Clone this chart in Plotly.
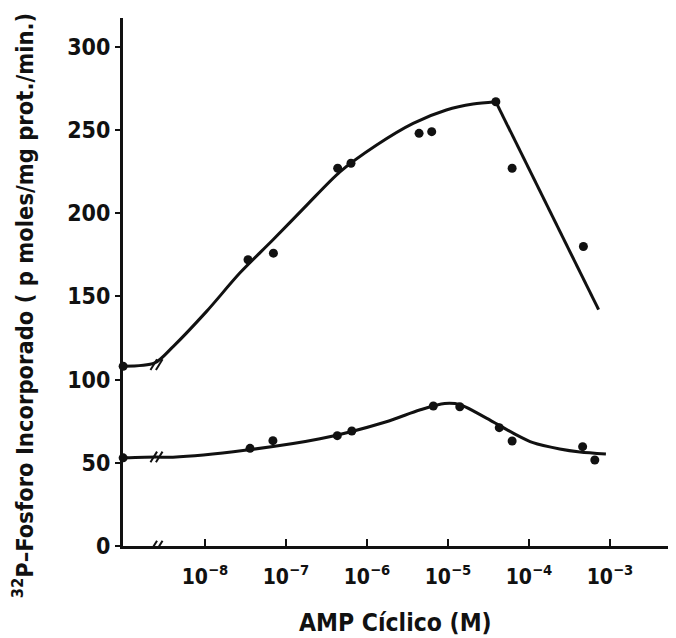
import plotly.graph_objects as go

# Position used for the control (no cyclic AMP) value, drawn at the axis origin
CONTROL_X = 10 ** -9.01

# Upper series: measured points
upper_x = [CONTROL_X, 3.4e-8, 7.0e-8, 4.35e-7, 6.35e-7, 4.4e-6, 6.3e-6, 3.9e-5, 6.2e-5, 4.7e-4]
upper_y = [108, 172, 176, 227, 230, 248, 249, 267, 227, 180]

# Upper series: hand-drawn fitted curve
upper_curve_x = [CONTROL_X, 10 ** -8.62, 10 ** -8.39, 10 ** -7.98, 10 ** -7.57, 10 ** -7.16,
                 10 ** -6.74, 10 ** -6.33, 10 ** -5.88, 10 ** -5.43, 10 ** -5.02, 10 ** -4.69, 10 ** -4.41]
upper_curve_y = [108, 110, 120, 141, 164, 184, 205, 225, 241, 254, 262, 265.6, 267]

# Upper series: straight descending segment
upper_drop_x = [10 ** -4.41, 10 ** -3.14]
upper_drop_y = [267, 142]

# Lower series: measured points
lower_x = [CONTROL_X, 3.6e-8, 6.9e-8, 4.3e-7, 6.5e-7, 6.6e-6, 1.4e-5, 4.3e-5, 6.2e-5, 4.6e-4, 6.5e-4]
lower_y = [53, 58.7, 63.3, 66.3, 69.1, 84.1, 83.7, 71.1, 63.1, 59.7, 51.7]

# Lower series: hand-drawn fitted curve
lower_curve_x = [CONTROL_X, 10 ** -8.59, 10 ** -8.47, 10 ** -7.65, 10 ** -6.58, 10 ** -5.76,
                 10 ** -5.35, 10 ** -5.04, 10 ** -4.85, 10 ** -4.52, 10 ** -4.19, 10 ** -3.95,
                 10 ** -3.62, 10 ** -3.37, 10 ** -3.05]
lower_curve_y = [53, 53.5, 53.3, 56.7, 64.4, 74.7, 81.7, 85.6, 84.9, 76.7, 67.7, 62.1, 58.3, 56.5, 55.3]

# Axis ticks
x_tickvals = [1e-8, 1e-7, 1e-6, 1e-5, 1e-4, 1e-3]
x_ticktext = ["10<sup>−8</sup>", "10<sup>−7</sup>", "10<sup>−6</sup>",
              "10<sup>−5</sup>", "10<sup>−4</sup>", "10<sup>−3</sup>"]
y_tickvals = [0, 50, 100, 150, 200, 250, 300]

X_TITLE = "AMP Cíclico (M)"
Y_TITLE = "<sup>32</sup>P–Fosforo Incorporado ( p moles/mg prot./min.)"

FONT = "DejaVu Sans Condensed, DejaVu Sans, Liberation Sans, sans-serif"
BLACK = "#111111"

fig = go.Figure()

fig.add_trace(go.Scatter(x=upper_curve_x, y=upper_curve_y, mode="lines",
                         line=dict(color=BLACK, width=3, shape="spline", smoothing=0.8),
                         showlegend=False, hoverinfo="skip"))
fig.add_trace(go.Scatter(x=upper_drop_x, y=upper_drop_y, mode="lines",
                         line=dict(color=BLACK, width=3), showlegend=False, hoverinfo="skip"))
fig.add_trace(go.Scatter(x=lower_curve_x, y=lower_curve_y, mode="lines",
                         line=dict(color=BLACK, width=3, shape="spline", smoothing=0.8),
                         showlegend=False, hoverinfo="skip"))
fig.add_trace(go.Scatter(x=upper_x, y=upper_y, mode="markers",
                         marker=dict(color=BLACK, size=9), showlegend=False, cliponaxis=False))
fig.add_trace(go.Scatter(x=lower_x, y=lower_y, mode="markers",
                         marker=dict(color=BLACK, size=9), showlegend=False, cliponaxis=False))

# Axis-break marks (//) on both curves and on the x axis
break_px = 0.062
for yc in [109, 53.5, 0]:
    for dx in [-0.006, 0.004]:
        fig.add_shape(type="line", xref="paper", yref="y",
                      x0=break_px + dx - 0.006, x1=break_px + dx + 0.006,
                      y0=yc - 3.2, y1=yc + 3.2,
                      line=dict(color=BLACK, width=2))

# The page body adds an 8 px offset, so the figure is 8 px smaller on each side
fig.update_layout(
    width=668, height=630,
    margin=dict(l=115, r=4, t=10, b=92),
    paper_bgcolor="white", plot_bgcolor="white",
    font=dict(family=FONT, color=BLACK, size=20, weight="bold"),
    annotations=[
        dict(text=X_TITLE, xref="paper", yref="paper", x=0.496, y=-0.144,
             showarrow=False, xanchor="center", yanchor="middle",
             font=dict(family=FONT, size=24.5, weight="bold", color=BLACK)),
        dict(text=Y_TITLE, xref="paper", yref="paper", x=-0.182, y=0.456,
             textangle=-90, showarrow=False, xanchor="center", yanchor="middle",
             font=dict(family=FONT, size=23.5, weight="bold", color=BLACK)),
    ],
)

fig.update_xaxes(
    type="log", range=[-9.012, -2.234], automargin=False,
    tickvals=x_tickvals, ticktext=x_ticktext,
    ticks="inside", ticklen=7, tickwidth=2, tickcolor=BLACK,
    ticklabelstandoff=10,
    showline=True, linecolor=BLACK, linewidth=3,
    showgrid=False, zeroline=False,
    tickfont=dict(family=FONT, size=21, weight="bold"),
)

fig.update_yaxes(
    range=[0, 317.3], automargin=False,
    tickvals=y_tickvals,
    ticks="outside", ticklen=5, tickwidth=2, tickcolor=BLACK,
    showline=True, linecolor=BLACK, linewidth=3,
    showgrid=False, zeroline=False,
    tickfont=dict(family=FONT, size=23, weight="bold"),
)

fig.write_html("out.html")
